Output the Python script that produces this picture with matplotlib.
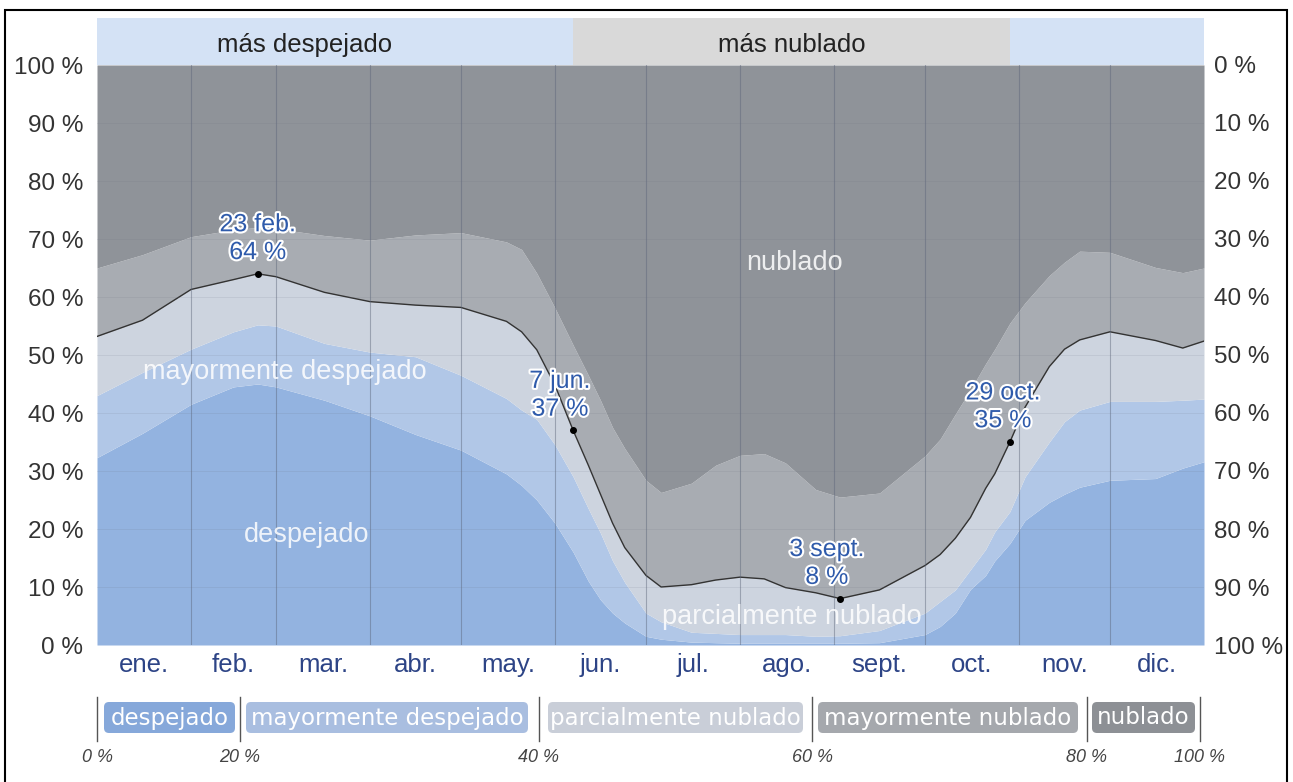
import matplotlib
matplotlib.use("Agg")
import matplotlib.pyplot as plt
from matplotlib.patches import FancyBboxPatch, Rectangle
import matplotlib.patheffects as pe

# day of year (0 = 1 Jan) at which the band edges were read
days = [0, 15, 31, 45, 53, 59, 75, 90, 105, 120, 135, 140, 145, 151, 157, 162,
        166, 170, 174, 181, 186, 196, 204, 212, 220, 227, 237, 245, 258, 273,
        278, 283, 288, 293, 296, 301, 306, 314, 319, 324, 334, 349, 358, 365]

# cumulative % of time: top of each category
despejado = [32.3, 36.5, 41.5, 44.5, 45.0, 44.5, 42.2, 39.5, 36.3, 33.6, 29.5,
             27.5, 25.0, 21.0, 16.0, 11.0, 7.8, 5.5, 3.8, 1.5, 1.0, 0.5, 0.4,
             0.3, 0.3, 0.3, 0.3, 0.3, 0.4, 1.8, 3.2, 5.5, 9.6, 12.0, 14.5, 17.5,
             21.5, 24.6, 26.0, 27.2, 28.4, 28.7, 30.5, 31.6]
may_despejado = [43.0, 47.0, 51.0, 54.0, 55.2, 55.0, 52.0, 50.5, 49.7, 46.5,
                 42.5, 40.5, 38.9, 34.5, 29.0, 23.5, 19.3, 14.5, 10.8, 5.5, 4.0,
                 2.2, 2.0, 1.8, 1.8, 1.8, 1.5, 1.6, 2.5, 5.5, 7.5, 9.5, 13.0,
                 16.5, 19.5, 23.0, 29.0, 35.0, 38.5, 40.5, 42.0, 42.0, 42.2,
                 42.4]
parc_nublado = [53.2, 56.0, 61.3, 63.0, 64.0, 63.5, 60.8, 59.2, 58.6, 58.2,
                55.8, 54.0, 50.9, 44.8, 37.0, 31.0, 26.0, 21.0, 16.8, 12.0,
                10.0, 10.4, 11.2, 11.7, 11.4, 9.9, 9.0, 8.0, 9.5, 13.7, 15.6,
                18.4, 22.0, 27.0, 29.5, 35.0, 41.0, 48.0, 51.0, 52.6, 54.0,
                52.5, 51.2, 52.4]
may_nublado = [65.0, 67.3, 70.4, 71.6, 72.0, 71.8, 70.6, 69.8, 70.7, 71.1, 69.5,
               68.2, 64.1, 58.1, 51.7, 46.5, 42.2, 37.5, 33.9, 28.4, 26.3, 27.9,
               31.0, 32.7, 33.0, 31.4, 26.8, 25.5, 26.2, 32.6, 35.5, 39.8, 44.0,
               48.5, 51.0, 55.5, 59.0, 63.7, 66.0, 67.9, 67.7, 65.1, 64.2, 65.0]

months = ['ene.', 'feb.', 'mar.', 'abr.', 'may.', 'jun.', 'jul.', 'ago.',
          'sept.', 'oct.', 'nov.', 'dic.']
month_len = [31, 28, 31, 30, 31, 30, 31, 31, 30, 31, 30, 31]

# extremes marked on the line: (day, %, date label)
marks_day = [53, 157, 245, 301]
marks_val = [64, 37, 8, 35]
marks_txt = ['23 feb.', '7 jun.', '3 sept.', '29 oct.']

categories = ['despejado', 'mayormente despejado', 'parcialmente nublado',
              'mayormente nublado', 'nublado']
legend_pct = ['0 %', '20 %', '40 %', '60 %', '80 %', '100 %']

# "más despejado" / "más nublado" seasons (day ranges)
season_edges = [0, 157, 301, 365]
season_names = ['más despejado', 'más nublado', '']

col_desp = '#93b3e0'
col_mdesp = '#b1c7e7'
col_parc = '#cdd4df'
col_mnub = '#a8acb2'
col_nub = '#8f9399'
box_cols = ['#86a8da', '#a9bee0', '#c9ced8', '#a5a8ad', '#8d9095']

W, H = 1293, 782
fig = plt.figure(figsize=(W / 100, H / 100), dpi=100)
fig.patch.set_facecolor('white')
font = 'Liberation Sans'

x0, x1, ytop, ybot = 97, 1204, 65, 645
ax = fig.add_axes([x0 / W, 1 - ybot / H, (x1 - x0) / W, (ybot - ytop) / H])
ax.set_xlim(0, 365)
ax.set_ylim(0, 100)

ax.fill_between(days, 0, despejado, color=col_desp, lw=0)
ax.fill_between(days, despejado, may_despejado, color=col_mdesp, lw=0)
ax.fill_between(days, may_despejado, parc_nublado, color=col_parc, lw=0)
ax.fill_between(days, parc_nublado, may_nublado, color=col_mnub, lw=0)
ax.fill_between(days, may_nublado, 100, color=col_nub, lw=0)
ax.plot(days, parc_nublado, color='#333333', lw=1)

# grid
starts = [0]
for n in month_len[:-1]:
    starts.append(starts[-1] + n)
for s in starts[1:]:
    ax.axvline(s, color='#5a6478', lw=0.8, alpha=0.45)
for v in range(10, 100, 10):
    ax.axhline(v, color='#6a7080', lw=0.6, alpha=0.15)

mids = [s + n / 2 for s, n in zip(starts, month_len)]
ax.set_xticks(mids)
ax.set_xticklabels(months, fontsize=18.5, color='#2d4486', family=font)
ax.tick_params(axis='x', length=0, pad=6)
ax.set_yticks(range(0, 101, 10))
ax.set_yticklabels([f'{v} %' for v in range(0, 101, 10)], fontsize=17.5,
                   color='#333333', family=font)
ax.tick_params(axis='y', length=0, pad=10)
for sp in ax.spines.values():
    sp.set_visible(False)

axr = ax.twinx()
axr.set_ylim(0, 100)
axr.set_yticks(range(0, 101, 10))
axr.set_yticklabels([f'{100 - v} %' for v in range(0, 101, 10)], fontsize=17.5,
                    color='#333333', family=font)
axr.tick_params(axis='y', length=0, pad=7)
for sp in axr.spines.values():
    sp.set_visible(False)

# extremes
halo = [pe.withStroke(linewidth=3, foreground='white')]
ax.plot(marks_day, marks_val, 'o', color='black', ms=4, zorder=5)
offs = [0, -9.5, -9.5, -5]
for d, v, t, o in zip(marks_day, marks_val, marks_txt, offs):
    ax.annotate(f'{t}\n{v} %', (d, v), xytext=(o, 7), textcoords='offset points',
                ha='center', va='bottom', fontsize=18, color='#2f5bab',
                family=font, linespacing=1.2, path_effects=halo, zorder=6)

# band names
lab = dict(color='white', alpha=0.85, fontsize=19.5, family=font, ha='center', va='center')
ax.text(230, 65.8, 'nublado', **lab)
ax.text(62, 47.0, 'mayormente despejado', **lab)
ax.text(69, 19.0, 'despejado', **lab)
ax.text(229, 4.8, 'parcialmente nublado', **lab)

# season band on top
axt = fig.add_axes([x0 / W, 1 - ytop / H, (x1 - x0) / W, (ytop - 18) / H])
axt.set_xlim(0, 365)
axt.set_ylim(0, 1)
axt.axis('off')
for i, name in enumerate(season_names):
    c = '#d9d9d9' if name == 'más nublado' else '#d4e2f5'
    axt.axvspan(season_edges[i], season_edges[i + 1], color=c, lw=0)
    if name:
        shift = -10 if i == 0 else 0
        axt.text((season_edges[i] + season_edges[i + 1]) / 2 + shift, 0.42, name,
                 ha='center', va='center', fontsize=18.5, color='#222222', family=font)

# legend strip
lg = fig.add_axes([0, 0, 1, 1], zorder=-1)
lg.set_xlim(0, W)
lg.set_ylim(H, 0)
lg.axis('off')
sep_x = [97, 240, 539, 812, 1087, 1200]
boxes = [(104, 235), (246, 528), (548, 803), (818, 1078), (1092, 1195)]
for sx, p in zip(sep_x, legend_pct):
    lg.plot([sx, sx], [697, 741], color='#555555', lw=1.0)
    lg.text(sx, 757, p, ha='center', va='center', fontsize=13, style='italic',
            color='#444444', family=font)
for (bx0, bx1), name, c in zip(boxes, categories, box_cols):
    lg.add_patch(FancyBboxPatch((bx0, 702), bx1 - bx0, 31,
                                boxstyle='round,pad=0,rounding_size=5',
                                fc=c, ec='none'))
    lg.text((bx0 + bx1) / 2, 718, name, ha='center', va='center', fontsize=16.5,
            color='white', family='DejaVu Sans')

# outer frame
fig.add_artist(Rectangle((5 / W, -0.01), (1287 - 5) / W, (H - 10) / H + 0.01,
                         transform=fig.transFigure, fill=False,
                         edgecolor='black', lw=1.5))

fig.savefig('out.png', dpi=100)
